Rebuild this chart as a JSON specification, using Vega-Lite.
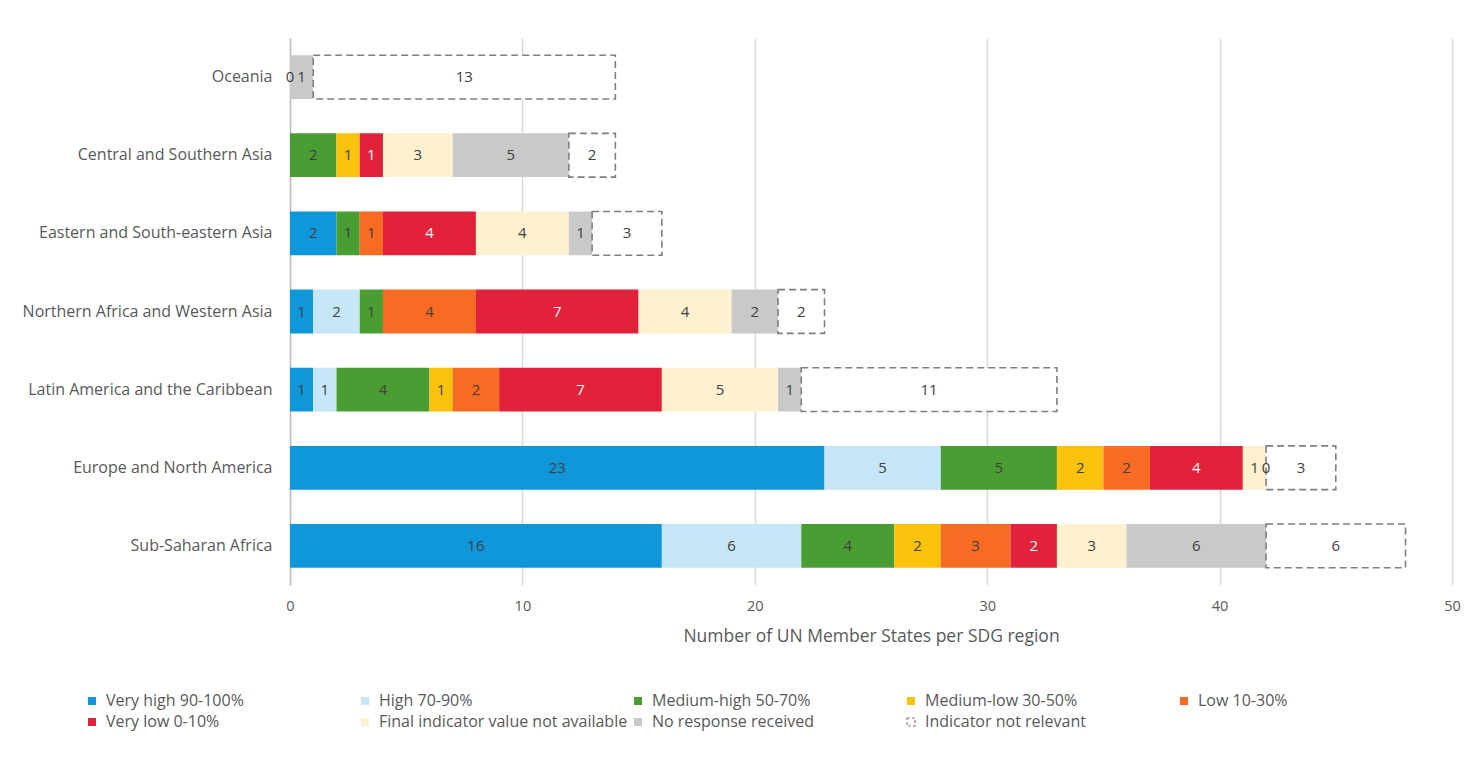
{
  "$schema": "https://vega.github.io/schema/vega-lite/v6.json",
  "width": 1162,
  "height": 547,
  "autosize": {"type": "none"},
  "padding": {"left": 290, "top": 38, "right": 26, "bottom": 196},
  "background": "white",
  "config": {"font": "Open Sans", "view": {"stroke": null}},
  "data": {
    "values": [
      {"region": "Oceania", "category": "Final indicator value not available", "level": 7, "n": 0},
      {"region": "Oceania", "category": "No response received", "level": 8, "n": 1},
      {"region": "Oceania", "category": "Indicator not relevant", "level": 9, "n": 13},

      {"region": "Central and Southern Asia", "category": "Medium-high 50-70%", "level": 3, "n": 2},
      {"region": "Central and Southern Asia", "category": "Medium-low 30-50%", "level": 4, "n": 1},
      {"region": "Central and Southern Asia", "category": "Very low 0-10%", "level": 6, "n": 1},
      {"region": "Central and Southern Asia", "category": "Final indicator value not available", "level": 7, "n": 3},
      {"region": "Central and Southern Asia", "category": "No response received", "level": 8, "n": 5},
      {"region": "Central and Southern Asia", "category": "Indicator not relevant", "level": 9, "n": 2},

      {"region": "Eastern and South-eastern Asia", "category": "Very high 90-100%", "level": 1, "n": 2},
      {"region": "Eastern and South-eastern Asia", "category": "Medium-high 50-70%", "level": 3, "n": 1},
      {"region": "Eastern and South-eastern Asia", "category": "Low 10-30%", "level": 5, "n": 1},
      {"region": "Eastern and South-eastern Asia", "category": "Very low 0-10%", "level": 6, "n": 4},
      {"region": "Eastern and South-eastern Asia", "category": "Final indicator value not available", "level": 7, "n": 4},
      {"region": "Eastern and South-eastern Asia", "category": "No response received", "level": 8, "n": 1},
      {"region": "Eastern and South-eastern Asia", "category": "Indicator not relevant", "level": 9, "n": 3},

      {"region": "Northern Africa and Western Asia", "category": "Very high 90-100%", "level": 1, "n": 1},
      {"region": "Northern Africa and Western Asia", "category": "High 70-90%", "level": 2, "n": 2},
      {"region": "Northern Africa and Western Asia", "category": "Medium-high 50-70%", "level": 3, "n": 1},
      {"region": "Northern Africa and Western Asia", "category": "Low 10-30%", "level": 5, "n": 4},
      {"region": "Northern Africa and Western Asia", "category": "Very low 0-10%", "level": 6, "n": 7},
      {"region": "Northern Africa and Western Asia", "category": "Final indicator value not available", "level": 7, "n": 4},
      {"region": "Northern Africa and Western Asia", "category": "No response received", "level": 8, "n": 2},
      {"region": "Northern Africa and Western Asia", "category": "Indicator not relevant", "level": 9, "n": 2},

      {"region": "Latin America and the Caribbean", "category": "Very high 90-100%", "level": 1, "n": 1},
      {"region": "Latin America and the Caribbean", "category": "High 70-90%", "level": 2, "n": 1},
      {"region": "Latin America and the Caribbean", "category": "Medium-high 50-70%", "level": 3, "n": 4},
      {"region": "Latin America and the Caribbean", "category": "Medium-low 30-50%", "level": 4, "n": 1},
      {"region": "Latin America and the Caribbean", "category": "Low 10-30%", "level": 5, "n": 2},
      {"region": "Latin America and the Caribbean", "category": "Very low 0-10%", "level": 6, "n": 7},
      {"region": "Latin America and the Caribbean", "category": "Final indicator value not available", "level": 7, "n": 5},
      {"region": "Latin America and the Caribbean", "category": "No response received", "level": 8, "n": 1},
      {"region": "Latin America and the Caribbean", "category": "Indicator not relevant", "level": 9, "n": 11},

      {"region": "Europe and North America", "category": "Very high 90-100%", "level": 1, "n": 23},
      {"region": "Europe and North America", "category": "High 70-90%", "level": 2, "n": 5},
      {"region": "Europe and North America", "category": "Medium-high 50-70%", "level": 3, "n": 5},
      {"region": "Europe and North America", "category": "Medium-low 30-50%", "level": 4, "n": 2},
      {"region": "Europe and North America", "category": "Low 10-30%", "level": 5, "n": 2},
      {"region": "Europe and North America", "category": "Very low 0-10%", "level": 6, "n": 4},
      {"region": "Europe and North America", "category": "Final indicator value not available", "level": 7, "n": 1},
      {"region": "Europe and North America", "category": "No response received", "level": 8, "n": 0},
      {"region": "Europe and North America", "category": "Indicator not relevant", "level": 9, "n": 3},

      {"region": "Sub-Saharan Africa", "category": "Very high 90-100%", "level": 1, "n": 16},
      {"region": "Sub-Saharan Africa", "category": "High 70-90%", "level": 2, "n": 6},
      {"region": "Sub-Saharan Africa", "category": "Medium-high 50-70%", "level": 3, "n": 4},
      {"region": "Sub-Saharan Africa", "category": "Medium-low 30-50%", "level": 4, "n": 2},
      {"region": "Sub-Saharan Africa", "category": "Low 10-30%", "level": 5, "n": 3},
      {"region": "Sub-Saharan Africa", "category": "Very low 0-10%", "level": 6, "n": 2},
      {"region": "Sub-Saharan Africa", "category": "Final indicator value not available", "level": 7, "n": 3},
      {"region": "Sub-Saharan Africa", "category": "No response received", "level": 8, "n": 6},
      {"region": "Sub-Saharan Africa", "category": "Indicator not relevant", "level": 9, "n": 6}
    ]
  },
  "encoding": {
    "y": {
      "field": "region",
      "type": "nominal",
      "sort": ["Oceania", "Central and Southern Asia", "Eastern and South-eastern Asia", "Northern Africa and Western Asia", "Latin America and the Caribbean", "Europe and North America", "Sub-Saharan Africa"],
      "title": null,
      "scale": {"paddingInner": 0.44, "paddingOuter": 0.22},
      "axis": {
        "domain": true,
        "domainColor": "#bfbfbf",
        "domainWidth": 1.5,
        "ticks": false,
        "grid": false,
        "labelPadding": 18,
        "labelFontSize": 16,
        "labelColor": "#595959",
        "labelLimit": 400
      }
    },
    "x": {
      "field": "n",
      "type": "quantitative",
      "stack": "zero",
      "scale": {"domain": [0, 50], "nice": false},
      "axis": {
        "values": [0, 10, 20, 30, 40, 50],
        "grid": true,
        "gridColor": "#d9d9d9",
        "gridWidth": 1.5,
        "domain": false,
        "ticks": false,
        "labelFlush": false,
        "labelPadding": 14,
        "labelFontSize": 14.5,
        "labelColor": "#595959",
        "title": "Number of UN Member States per SDG region",
        "titleFontSize": 17.5,
        "titleFontWeight": "normal",
        "titleColor": "#595959",
        "titlePadding": 15
      }
    },
    "order": {"field": "level", "type": "quantitative"}
  },
  "layer": [
    {
      "mark": {"type": "bar"},
      "encoding": {
        "color": {
          "field": "category",
          "type": "nominal",
          "scale": {
            "domain": ["Very high 90-100%", "High 70-90%", "Medium-high 50-70%", "Medium-low 30-50%", "Low 10-30%", "Very low 0-10%", "Final indicator value not available", "No response received", "Indicator not relevant"],
            "range": ["#0f97d9", "#c6e6f8", "#4a9d33", "#fbc20d", "#f96b22", "#e2213b", "#fdf1d0", "#c9c9c9", "#ffffff"]
          },
          "legend": {
            "title": null,
            "orient": "none",
            "legendX": -206,
            "legendY": 655,
            "direction": "horizontal",
            "columns": 5,
            "gridAlign": "all",
            "symbolType": "square",
            "symbolSize": 64,
            "symbolStrokeWidth": 1.2,
            "symbolDash": [3, 2],
            "labelFontSize": 16,
            "labelColor": "#595959",
            "labelOffset": 6,
            "labelLimit": 400,
            "columnPadding": 2,
            "rowPadding": 5,
            "padding": 0
          }
        },
        "stroke": {
          "field": "category",
          "type": "nominal",
          "scale": {
            "domain": ["Very high 90-100%", "High 70-90%", "Medium-high 50-70%", "Medium-low 30-50%", "Low 10-30%", "Very low 0-10%", "Final indicator value not available", "No response received", "Indicator not relevant"],
            "range": ["transparent", "transparent", "transparent", "transparent", "transparent", "transparent", "transparent", "transparent", "#7f7f7f"]
          },
          "legend": {
            "title": null,
            "orient": "none",
            "legendX": -206,
            "legendY": 655,
            "direction": "horizontal",
            "columns": 5,
            "gridAlign": "all",
            "symbolType": "square",
            "symbolSize": 64,
            "symbolStrokeWidth": 1.2,
            "symbolDash": [3, 2],
            "labelFontSize": 16,
            "labelColor": "#595959",
            "labelOffset": 6,
            "labelLimit": 400,
            "columnPadding": 2,
            "rowPadding": 5,
            "padding": 0
          }
        },
        "strokeWidth": {
          "condition": {"test": "datum.category === 'Indicator not relevant'", "value": 1.6},
          "value": 0
        },
        "strokeDash": {
          "condition": {"test": "datum.category === 'Indicator not relevant'", "value": [7, 4]},
          "value": [1, 0]
        }
      }
    },
    {
      "mark": {"type": "text", "fontSize": 15, "align": "center", "baseline": "middle"},
      "encoding": {
        "x": {"field": "n", "type": "quantitative", "stack": "zero", "bandPosition": 0.5},
        "text": {"field": "n", "type": "quantitative"},
        "color": {
          "condition": {"test": "datum.category === 'Very low 0-10%'", "value": "#ffffff"},
          "value": "#404040"
        }
      }
    }
  ]
}
